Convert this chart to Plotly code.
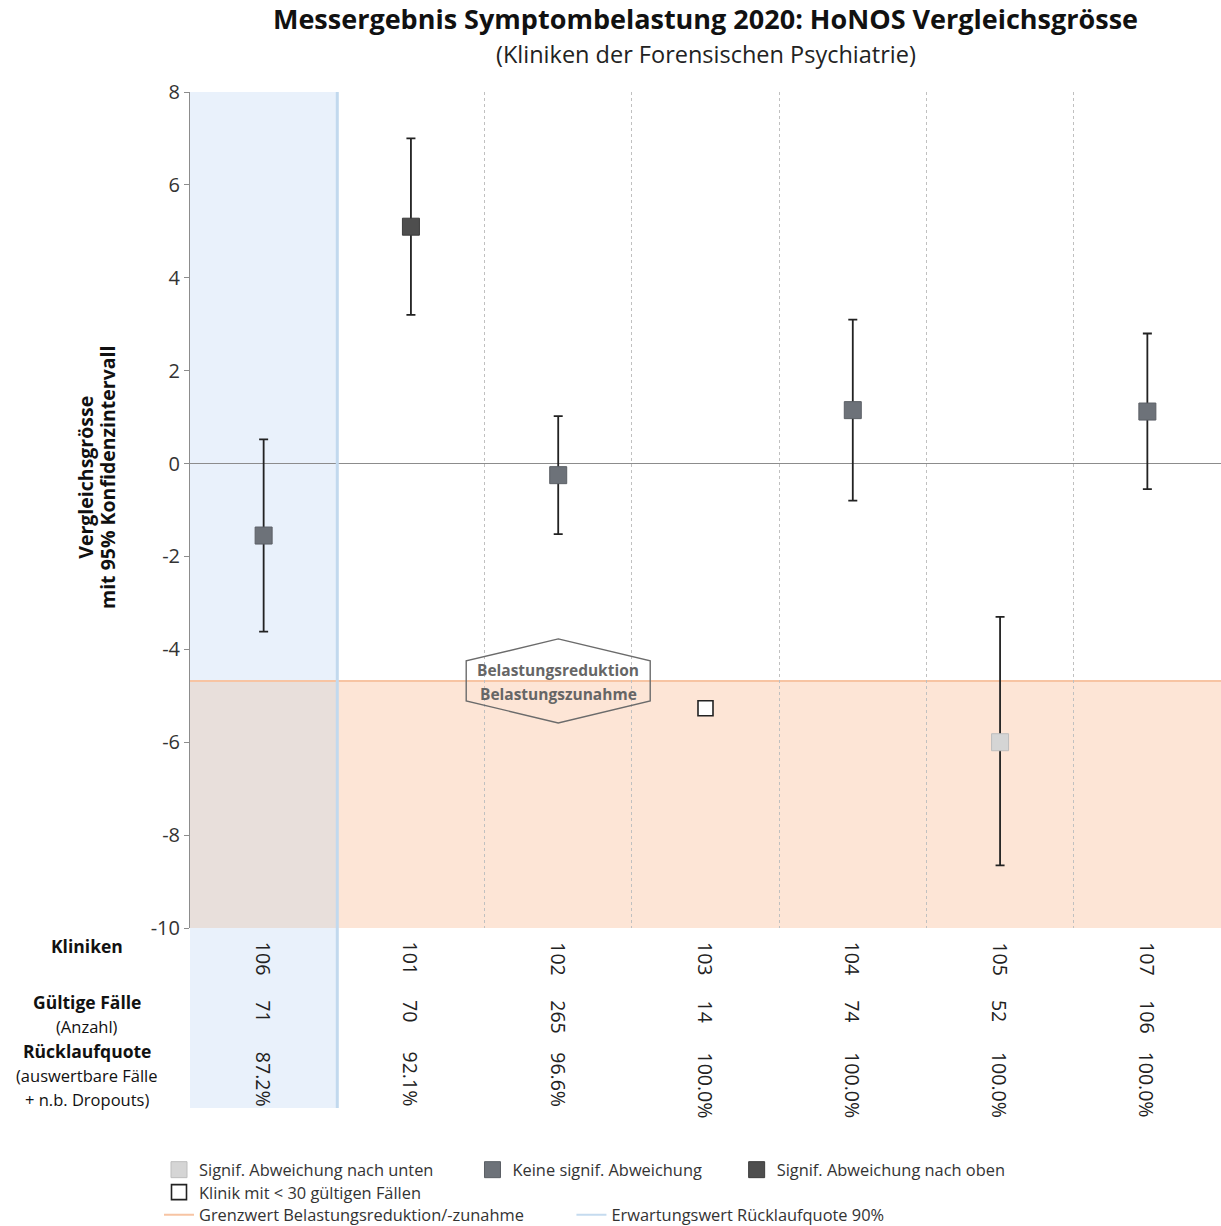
import plotly.graph_objects as go

# ---------------- data ----------------
clinics = ["106", "101", "102", "103", "104", "105", "107"]
valid_cases = ["71", "70", "265", "14", "74", "52", "106"]
return_rates = ["87.2%", "92.1%", "96.6%", "100.0%", "100.0%", "100.0%", "100.0%"]
values = [-1.55, 5.10, -0.25, -5.27, 1.15, -6.00, 1.12]
ci_lower = [-3.62, 3.20, -1.52, None, -0.80, -8.65, -0.55]
ci_upper = [0.52, 7.00, 1.02, None, 3.10, -3.30, 2.80]
status = ["keine", "oben", "keine", "klein", "keine", "unten", "keine"]
threshold = -4.68
own_clinic = "106"
y_ticks = [8, 6, 4, 2, 0, -2, -4, -6, -8, -10]
y_tick_text = ["8", "6", "4", "2", "0", "-2", "-4", "-6", "-8", "-10"]
y_range = [-10, 8]

FONT = "Open Sans"
W, H = 1221, 1226
M_L, M_R, M_T, M_B = 190, 0, 92, 118
plot_h = H - M_T - M_B
table_h = 180
dom0 = table_h / plot_h


def py(pix):
    """pixel row (from top of page) -> paper y"""
    return (H - M_B - pix) / plot_h


def px(pix):
    return (pix - M_L) / (W - M_L - M_R)


def pad(k):
    return "\u00a0" * k


styles = {
    "unten": dict(name="Signif. Abweichung nach unten" + pad(8), fill="#d5d5d5", line="#bdbdbd", lw=1, size=17, legend="legend"),
    "keine": dict(name="Keine signif. Abweichung" + pad(7), fill="#6d7279", line="#5b5f65", lw=1, size=17, legend="legend"),
    "oben": dict(name="Signif. Abweichung nach oben", fill="#4e4e4e", line="#3c3c3c", lw=1, size=17, legend="legend"),
    "klein": dict(name="Klinik mit < 30 gültigen Fällen", fill="#ffffff", line="#222222", lw=1.6, size=15, legend="legend2"),
}

fig = go.Figure()

xs_all = list(range(len(clinics)))
for key in ["unten", "keine", "oben", "klein"]:
    st = styles[key]
    idx = [i for i, s in enumerate(status) if s == key]
    xs = [xs_all[i] for i in idx]
    ys = [values[i] for i in idx]
    has_ci = all(ci_lower[i] is not None for i in idx)
    err = None
    if has_ci:
        err = dict(type="data", symmetric=False,
                   array=[ci_upper[i] - values[i] for i in idx],
                   arrayminus=[values[i] - ci_lower[i] for i in idx],
                   color="#222222", thickness=1.8, width=4.5)
    fig.add_trace(go.Scatter(
        x=xs, y=ys, mode="markers", name=st["name"], legend=st["legend"],
        marker=dict(symbol="square", size=st["size"], color=st["fill"],
                    line=dict(color=st["line"], width=st["lw"])),
        error_y=err, showlegend=True, hoverinfo="skip"))

# legend-only line entries
fig.add_trace(go.Scatter(x=[None], y=[None], mode="lines", name="Grenzwert Belastungsreduktion/-zunahme" + pad(10),
                         line=dict(color="#f7c4a3", width=2), legend="legend3"))
fig.add_trace(go.Scatter(x=[None], y=[None], mode="lines", name="Erwartungswert Rücklaufquote 90%",
                         line=dict(color="#c5dbef", width=2), legend="legend3"))

own = clinics.index(own_clinic)
n = len(clinics)
xl, xr = -0.5, n - 0.5
shapes = [
    dict(type="rect", xref="x", yref="y", x0=xl, x1=xr, y0=y_range[0], y1=threshold,
         fillcolor="#fde5d6", line=dict(width=0), layer="below"),
    dict(type="rect", xref="x", yref="y", x0=own - 0.5, x1=own + 0.5, y0=threshold, y1=y_range[1],
         fillcolor="#e9f1fb", line=dict(width=0), layer="below"),
    dict(type="rect", xref="x", yref="y", x0=own - 0.5, x1=own + 0.5, y0=y_range[0], y1=threshold,
         fillcolor="#e8dfdb", line=dict(width=0), layer="below"),
    dict(type="rect", xref="x", yref="paper", x0=own - 0.5, x1=own + 0.5, y0=0, y1=dom0,
         fillcolor="#e9f1fb", line=dict(width=0), layer="below"),
    dict(type="line", xref="x", yref="y", x0=xl, x1=xr, y0=threshold, y1=threshold,
         line=dict(color="#f7c4a3", width=2), layer="below"),
    dict(type="line", xref="x", yref="paper", x0=own + 0.5, x1=own + 0.5, y0=0, y1=1,
         line=dict(color="#c2d9ee", width=3), layer="above"),
    # hexagon label frame around the threshold
    dict(type="path", xref="x", yref="y", xsizemode="pixel", ysizemode="pixel",
         xanchor=2, yanchor=threshold,
         path="M 0 42 L 92 20 L 92 -20 L 0 -42 L -92 -20 L -92 20 Z",
         line=dict(color="#6b6b6b", width=1.4), fillcolor="rgba(0,0,0,0)", layer="above"),
]

annotations = []
annotations.append(dict(text="<b>Belastungsreduktion</b>", x=2, y=threshold, xref="x", yref="y",
                        yshift=11, showarrow=False, font=dict(family=FONT, size=15.5, color="#666666")))
annotations.append(dict(text="<b>Belastungszunahme</b>", x=2, y=threshold, xref="x", yref="y",
                        yshift=-13, showarrow=False, font=dict(family=FONT, size=15.5, color="#666666")))

# subtitle
annotations.append(dict(text="(Kliniken der Forensischen Psychiatrie)", xref="paper", yref="paper",
                        x=0.5, y=py(54.5), showarrow=False, xanchor="center", yanchor="middle", borderpad=0,
                        font=dict(family=FONT, size=23.5, color="#222222")))

# y-axis title
annotations.append(dict(text="<b><span style='font-size:19.5px'>Vergleichsgrösse</span><br>"
                             "<span style='font-size:19.5px'>mit 95% Konfidenzintervall</span></b>",
                        xref="paper", yref="paper", xanchor="center", yanchor="middle",
                        x=px(96), y=py(478), textangle=-90, showarrow=False,
                        font=dict(family=FONT, size=17, color="#111111")))

# table row labels
row_labels = [
    ("<b>Kliniken</b>", 946, 17.5),
    ("<b>Gültige Fälle</b>", 1002, 17.5),
    ("(Anzahl)", 1026, 16.5),
    ("<b>Rücklaufquote</b>", 1051, 17.5),
    ("(auswertbare Fälle", 1075, 16.5),
    ("+ n.b. Dropouts)", 1099, 16.5),
]
for txt, ypix, fs in row_labels:
    annotations.append(dict(text=txt, xref="paper", yref="paper", x=px(87), y=py(ypix),
                            showarrow=False, xanchor="center", yanchor="middle", borderpad=0,
                            font=dict(family=FONT, size=fs, color="#111111")))

# table values (rotated)
for row_vals, top in [(clinics, 940), (valid_cases, 998), (return_rates, 1050)]:
    for i, v in enumerate(row_vals):
        annotations.append(dict(text=v, xref="x", yref="paper", x=i, y=py(top), textangle=90,
                                showarrow=False, xanchor="center", yanchor="top",
                                font=dict(family=FONT, size=19.5, color="#222222")))

legend_common = dict(orientation="h", xanchor="left", yanchor="middle",
                     font=dict(family=FONT, size=16.4, color="#333333"), bgcolor="rgba(0,0,0,0)")

fig.update_layout(
    width=W, height=H,
    margin=dict(l=M_L, r=M_R, t=M_T, b=M_B, autoexpand=False),
    paper_bgcolor="white", plot_bgcolor="white",
    font=dict(family=FONT, color="#222222"),
    title=dict(text="<b>Messergebnis Symptombelastung 2020: HoNOS Vergleichsgrösse</b>",
               x=0.5, xref="paper", xanchor="center", y=1 - 19.5 / H, yref="container", yanchor="middle",
               font=dict(family=FONT, size=27, color="#111111")),
    xaxis=dict(range=[xl, xr], showticklabels=False, ticks="", zeroline=False, showline=False,
               tickvals=[i + 0.5 for i in range(1, n - 1)], showgrid=True,
               gridcolor="#c0c0c0", griddash="dot", gridwidth=1, fixedrange=True),
    yaxis=dict(range=y_range, domain=[dom0, 1], tickvals=y_ticks, ticktext=y_tick_text, showgrid=False,
               zeroline=True, zerolinecolor="#8c8c8c", zerolinewidth=1.2,
               showline=True, linecolor="#8c8c8c", linewidth=1, ticks="outside", ticklen=5,
               tickcolor="#8c8c8c", tickfont=dict(family=FONT, size=20, color="#333333")),
    shapes=shapes,
    annotations=annotations,
    legend=dict(x=px(159), y=py(1170), **legend_common),
    legend2=dict(x=px(159), y=py(1192.5), **legend_common),
    legend3=dict(x=px(159), y=py(1215), **legend_common),
)

fig.write_html("out.html")
